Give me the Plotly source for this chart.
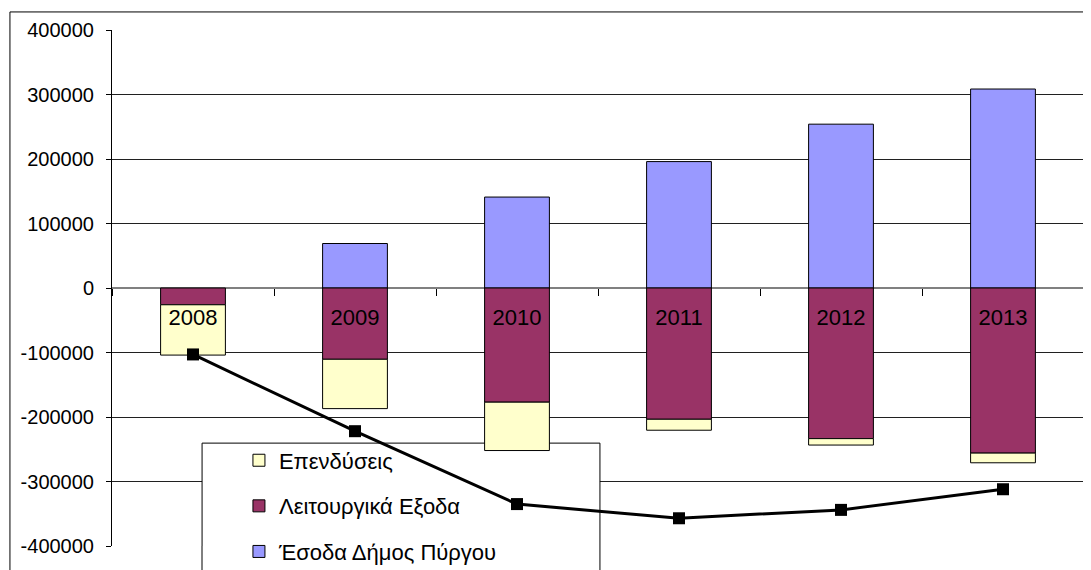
import plotly.graph_objects as go

years = ["2008", "2009", "2010", "2011", "2012", "2013"]
esoda = [None, 69000, 141000, 196000, 254000, 308500]
leitourgika = [-26000, -110500, -177000, -203500, -233500, -256000]
ependyseis = [-78000, -76500, -75000, -17000, -10000, -15000]
synolo = [-103000, -222000, -335000, -357000, -344000, -312000]
y_ticks = [400000, 300000, 200000, 100000, 0, -100000, -200000, -300000, -400000]
y_labels = ["400000", "300000", "200000", "100000", "0", "-100000", "-200000", "-300000", "-400000"]

FONT = "Arial, 'Liberation Sans', sans-serif"

fig = go.Figure()

# order matters: negatives stack outward in trace order
fig.add_trace(go.Bar(x=years, y=esoda, name="Έσοδα Δήμος Πύργου", legendrank=3, legendgroup="c",
                     marker=dict(color="#9999FF", line=dict(color="black", width=1))))
fig.add_trace(go.Bar(x=years, y=leitourgika, name="Λειτουργικά Εξοδα", legendrank=2, legendgroup="b",
                     marker=dict(color="#993366", line=dict(color="black", width=1))))
fig.add_trace(go.Bar(x=years, y=ependyseis, name="Επενδύσεις", legendrank=1, legendgroup="a",
                     marker=dict(color="#FFFFCC", line=dict(color="black", width=1))))
fig.add_trace(go.Scatter(x=years, y=synolo, mode="lines+markers", showlegend=False,
                         line=dict(color="black", width=3),
                         marker=dict(symbol="square", size=12, color="black")))

# the page body adds 8px, so margins are shifted by that
fig.update_layout(
    width=1091, height=570,
    margin=dict(l=104, r=15, t=22, b=32, autoexpand=False),
    barmode="relative", bargap=0.6,
    plot_bgcolor="white", paper_bgcolor="white",
    font=dict(family=FONT, size=21, color="black"),
    legend=dict(x=0.1306, y=0.2065, xanchor="left", yanchor="top",
                traceorder="grouped", tracegroupgap=14,
                bgcolor="rgba(0,0,0,0)", borderwidth=0,
                font=dict(family=FONT, size=22)),
    xaxis=dict(type="category", range=[-0.5, 5.5], anchor="free", position=0.5,
               showgrid=False, showline=False, zeroline=False,
               ticks="outside", tickson="boundaries", ticklen=7, tickcolor="black",
               ticklabelstandoff=14, tickfont=dict(size=22)),
    yaxis=dict(range=[-400000, 400000], tickvals=y_ticks, ticktext=y_labels,
               showgrid=True, gridcolor="#202020", gridwidth=1,
               zeroline=True, zerolinecolor="#808080", zerolinewidth=2,
               showline=True, linecolor="black", linewidth=1,
               ticks="outside", ticklen=5, tickcolor="black",
               ticklabelstandoff=8, tickfont=dict(size=20)),
)

# legend box: over the gridlines, under the bars and line
fig.add_shape(type="rect", xref="x", yref="y", x0=0.056, x1=2.512, y0=-450000, y1=-240500,
              line=dict(color="black", width=1), fillcolor="white", layer="between")
# its sides continue below the plot area
for bx in [0.0926, 0.502]:
    fig.add_shape(type="line", xref="paper", yref="paper", x0=bx, x1=bx, y0=0, y1=-0.08,
                  line=dict(color="black", width=1))
# right edge of the plot frame in gray
fig.add_shape(type="line", xref="paper", yref="paper", x0=1, x1=1, y0=0, y1=1,
              line=dict(color="#808080", width=1))
# outer chart border
fig.add_shape(type="rect", xref="paper", yref="paper", x0=-0.105, x1=1.03, y0=-0.12, y1=1.035,
              line=dict(color="black", width=1), fillcolor="rgba(0,0,0,0)")

fig.write_html("out.html")
